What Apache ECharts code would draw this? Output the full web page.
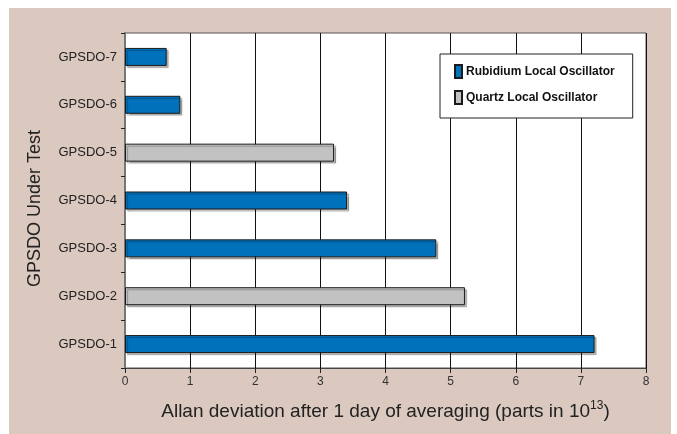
<!DOCTYPE html>
<html>
<head>
<meta charset="utf-8">
<script src="https://cdn.jsdelivr.net/npm/echarts@6/dist/echarts.min.js"></script>
<style>
  html, body { margin: 0; padding: 0; background: #fff; }
  #chart {
    position: absolute;
    left: 9px;
    top: 8px;
    width: 662px;
    height: 426px;
    background: #dbc9c0;
  }
</style>
</head>
<body>
<div id="chart"></div>
<script>
// categories bottom -> top
var categories = ["GPSDO-1", "GPSDO-2", "GPSDO-3", "GPSDO-4", "GPSDO-5", "GPSDO-6", "GPSDO-7"];
var rubidium = [7.21, null, 4.78, 3.41, null, 0.85, 0.64];
var quartz = [null, 5.22, null, null, 3.21, null, null];
var xTicks = [0, 1, 2, 3, 4, 5, 6, 7, 8];

var chart = echarts.init(document.getElementById("chart"));

var barShadow = {
  borderColor: "#1a1a1a",
  borderWidth: 1,
  shadowColor: "rgba(0,0,0,0.28)",
  shadowOffsetX: 2,
  shadowOffsetY: 2,
  shadowBlur: 1
};

var opt = {
  animation: false,
  textStyle: { fontFamily: "Liberation Sans, Arial, sans-serif" },
  grid: {
    left: 116,
    top: 25,
    right: 25,
    bottom: 66,
    show: true,
    backgroundColor: "#fff",
    borderColor: "#555",
    borderWidth: 1,
    outerBoundsMode: "none"
  },
  legend: {
    orient: "vertical",
    left: 431,
    top: 46,
    padding: [10, 18, 13, 14],
    itemGap: 11,
    itemWidth: 7,
    itemHeight: 13,
    icon: "rect",
    backgroundColor: "#fff",
    borderColor: "#222",
    borderWidth: 1,
    textStyle: { fontSize: 12, fontWeight: "bold", color: "#111", padding: [0, 0, 0, -1] },
    data: ["Rubidium Local Oscillator", "Quartz Local Oscillator"]
  },
  xAxis: {
    type: "value",
    min: 0,
    max: 8,
    interval: 1,
    name: "{a|Allan deviation after 1 day of averaging (parts in 10}{s|13}{a|)}",
    nameLocation: "middle",
    nameGap: 32,
    nameTextStyle: {
      rich: {
        a: { fontSize: 19, color: "#222" },
        s: { fontSize: 12, color: "#222", padding: [0, 0, 11, 0] }
      }
    },
    axisLine: { show: true, lineStyle: { color: "#444", width: 1 } },
    axisTick: { show: true, length: 5, lineStyle: { color: "#222" } },
    axisLabel: {
      fontSize: 12,
      color: "#333",
      margin: 8,
      formatter: function (v) { return xTicks.indexOf(v) >= 0 ? String(v) : ""; }
    },
    splitLine: { show: true, lineStyle: { color: "#111", width: 1 } }
  },
  yAxis: {
    type: "category",
    data: categories,
    name: "GPSDO Under Test",
    nameLocation: "middle",
    nameGap: 81,
    nameTextStyle: { fontSize: 18, color: "#222", padding: [0, 16, 0, 0] },
    axisLine: { show: true, lineStyle: { color: "#777", width: 2 } },
    axisTick: { show: true, length: 4, lineStyle: { color: "#222" } },
    axisLabel: { fontSize: 13, color: "#222", margin: 8 },
    splitLine: { show: false }
  },
  series: [
    {
      name: "Rubidium Local Oscillator",
      type: "bar",
      stack: "one",
      barWidth: 18,
      itemStyle: Object.assign({ color: "#0071bb" }, barShadow),
      data: rubidium
    },
    {
      name: "Quartz Local Oscillator",
      type: "bar",
      stack: "one",
      barWidth: 18,
      itemStyle: Object.assign({ color: "#c2c2c2" }, barShadow),
      data: quartz
    }
  ]
};

chart.setOption(opt);
</script>
</body>
</html>
